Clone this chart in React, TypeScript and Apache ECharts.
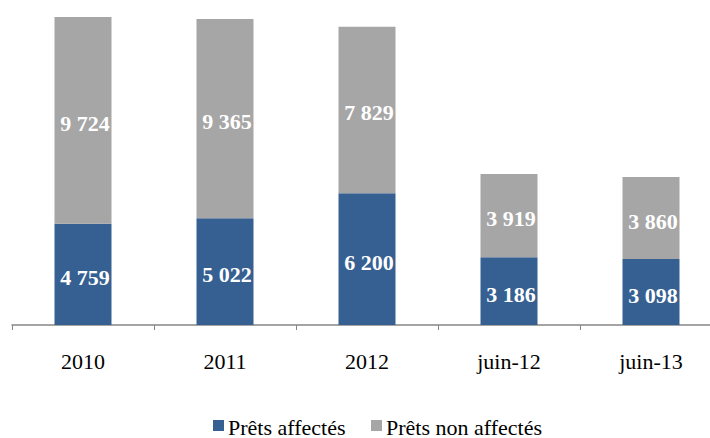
import React, { useEffect, useRef } from "react";
import * as echarts from "echarts";

const categories = ["2010", "2011", "2012", "juin-12", "juin-13"];
const pretsAffectes = [4759, 5022, 6200, 3186, 3098];
const pretsNonAffectes = [9724, 9365, 7829, 3919, 3860];
const seriesNames = ["Prêts affectés", "Prêts non affectés"];
const seriesColors = ["#366092", "#A6A6A6"];

const fmt = (v: number) => {
  const s = String(Math.round(v));
  return s.replace(/\B(?=(\d{3})+(?!\d))/g, " ");
};

export default function App() {
  const ref = useRef<HTMLDivElement>(null);
  useEffect(() => {
    if (!ref.current) return;
    const chart = echarts.init(ref.current, undefined, { renderer: "svg" });
    const font = "'Liberation Serif', 'Times New Roman', serif";
    const label = {
      show: true,
      position: "inside",
      offset: [2, 3],
      color: "#ffffff",
      fontFamily: font,
      fontWeight: "bold",
      fontSize: 22,
      formatter: (p: any) => fmt(p.value),
    };
    const legendX = [213, 371];
    const legendGraphics: any[] = [];
    seriesNames.forEach((n, i) => {
      legendGraphics.push({
        type: "rect",
        shape: { x: legendX[i], y: 420, width: 11, height: 11 },
        style: { fill: seriesColors[i] },
      });
      legendGraphics.push({
        type: "text",
        x: legendX[i] + 15,
        y: 427,
        style: {
          text: n,
          fontFamily: font,
          fontSize: 22,
          fill: "#000",
          verticalAlign: "middle",
          align: "left",
        },
      });
    });
    chart.setOption({
      animation: false,
      textStyle: { fontFamily: font },
      grid: { left: 12, right: 8, top: 6, bottom: 113, containLabel: false },
      graphic: legendGraphics,
      xAxis: {
        type: "category",
        data: categories,
        axisLine: { lineStyle: { color: "#868686", width: 1.5 } },
        axisTick: { show: true, length: 5, lineStyle: { color: "#868686" } },
        axisLabel: { fontFamily: font, fontSize: 22, color: "#000", margin: 25 },
      },
      yAxis: {
        type: "value",
        min: 0,
        max: 15000,
        show: false,
        splitLine: { show: false },
      },
      series: [
        {
          name: seriesNames[0],
          type: "bar",
          stack: "total",
          barWidth: 57,
          data: pretsAffectes,
          itemStyle: { color: seriesColors[0] },
          label,
        },
        {
          name: seriesNames[1],
          type: "bar",
          stack: "total",
          barWidth: 57,
          data: pretsNonAffectes,
          itemStyle: { color: seriesColors[1] },
          label,
        },
      ],
    });
    return () => chart.dispose();
  }, []);
  return (
    <div
      style={{ position: "fixed", left: 0, top: 0, width: 710, height: 438, overflow: "hidden", background: "#fff" }}
    >
      <div ref={ref} style={{ width: 730, height: 438 }} />
    </div>
  );
}
